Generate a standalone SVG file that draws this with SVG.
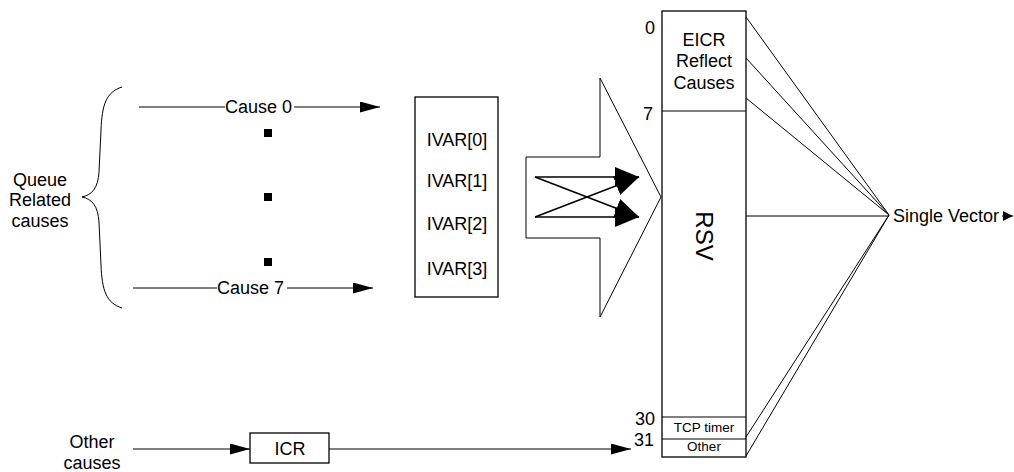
<svg xmlns="http://www.w3.org/2000/svg" width="1014" height="472" viewBox="0 0 1014 472">
<style>
text{font-family:"Liberation Sans",Arial,sans-serif;fill:#000}
.t18{font-size:18px}
.t13{font-size:13.5px}
.box{fill:#fff;stroke:#000;stroke-width:1.3}
.ln{fill:none;stroke:#000;stroke-width:1}
.lnb{fill:none;stroke:#000;stroke-width:1.5}
</style>
<defs>
<marker id="ah" markerWidth="20" markerHeight="11" refX="20" refY="5.5" orient="auto" markerUnits="userSpaceOnUse">
<path d="M0,0 L20,5.5 L0,11 Z" fill="#000"/>
</marker>
<marker id="ahb" markerWidth="24" markerHeight="20" refX="24" refY="10" orient="auto" markerUnits="userSpaceOnUse">
<path d="M0,0 L24,10 L0,20 Z" fill="#000"/>
</marker>
<marker id="ahs" markerWidth="10" markerHeight="10" refX="10" refY="5" orient="auto" markerUnits="userSpaceOnUse">
<path d="M0,0 L10,5 L0,10 Z" fill="#000"/>
</marker>
</defs>

<g id="queue-causes">
<path class="ln" d="M122,87 C106,92 102,105 101,130 L99,172 C98,188 92,195 82,197 C92,199 98,206 99,222 L101,265 C102,290 106,303 122,308"/>
<text class="t18" text-anchor="middle" x="40" y="186">Queue</text>
<text class="t18" text-anchor="middle" x="40" y="206">Related</text>
<text class="t18" text-anchor="middle" x="40" y="227">causes</text>
</g>

<g id="dots">
<rect x="264" y="129" width="8" height="8" fill="#000"/>
<rect x="264" y="193" width="8" height="8" fill="#000"/>
<rect x="264" y="258" width="8" height="8" fill="#000"/>
</g>

<g id="ivar">
<rect class="box" x="415" y="97" width="83" height="200"/>
<text class="t18" text-anchor="middle" x="457" y="146">IVAR[0]</text>
<text class="t18" text-anchor="middle" x="457" y="187">IVAR[1]</text>
<text class="t18" text-anchor="middle" x="457" y="230">IVAR[2]</text>
<text class="t18" text-anchor="middle" x="457" y="275">IVAR[3]</text>
</g>

<g id="big-arrow">
<path class="ln" d="M600,157 L526,157 L526,238 L600,238 L600,317 L661,197 L600,78 Z" fill="#fff"/>
</g>

<g id="register">
<rect class="box" x="662" y="11" width="84" height="446"/>
<line class="ln" x1="662" y1="111" x2="746" y2="111" stroke-width="1.3"/>
<line class="ln" x1="662" y1="417" x2="746" y2="417" stroke-width="1.3"/>
<line class="ln" x1="662" y1="439" x2="746" y2="439" stroke-width="1.3"/>
<text class="t18" text-anchor="middle" x="704" y="46">EICR</text>
<text class="t18" text-anchor="middle" x="704" y="67">Reflect</text>
<text class="t18" text-anchor="middle" x="704" y="89">Causes</text>
<text font-size="24" text-anchor="middle" transform="translate(696,236) rotate(90)">RSV</text>
<text class="t13" text-anchor="middle" x="704" y="432">TCP timer</text>
<text class="t13" text-anchor="middle" x="704" y="451">Other</text>
<text class="t18" text-anchor="end" x="655" y="34">0</text>
<text class="t18" text-anchor="end" x="653" y="120">7</text>
<text class="t18" text-anchor="end" x="655" y="425">30</text>
<text class="t18" text-anchor="end" x="654" y="446">31</text>
</g>

<g id="icr">
<rect class="box" x="250" y="433" width="79" height="30"/>
<text class="t18" text-anchor="middle" x="290" y="455">ICR</text>
</g>

<g id="other-causes">
<text class="t18" text-anchor="middle" x="92" y="448">Other</text>
<text class="t18" text-anchor="middle" x="92" y="469">causes</text>
</g>

<g id="single-vector">
<text class="t18" x="893" y="222">Single Vector</text>
</g>

<g id="connectors">
<line class="ln" x1="139" y1="107" x2="225" y2="107"/>
<text class="t18" x="225" y="113">Cause 0</text>
<line class="ln" x1="294" y1="107" x2="380" y2="107" marker-end="url(#ah)"/>
<line class="ln" x1="133" y1="288" x2="217" y2="288"/>
<text class="t18" x="217" y="294">Cause 7</text>
<line class="ln" x1="287" y1="288" x2="373" y2="288" marker-end="url(#ah)"/>

<line class="lnb" x1="535" y1="177" x2="639" y2="177" marker-end="url(#ahb)"/>
<line class="lnb" x1="535" y1="217" x2="639" y2="217" marker-end="url(#ahb)"/>
<line class="lnb" x1="535" y1="177" x2="639" y2="217" marker-end="url(#ahb)"/>
<line class="lnb" x1="535" y1="217" x2="639" y2="177" marker-end="url(#ahb)"/>

<line class="ln" x1="133" y1="449" x2="250" y2="449" marker-end="url(#ah)"/>
<line class="ln" x1="329" y1="449" x2="631" y2="449" marker-end="url(#ah)"/>

<line class="ln" x1="746" y1="17" x2="889" y2="215"/>
<line class="ln" x1="746" y1="58" x2="889" y2="215"/>
<line class="ln" x1="746" y1="98" x2="889" y2="215"/>
<line class="ln" x1="746" y1="216" x2="889" y2="216"/>
<line class="ln" x1="746" y1="437" x2="889" y2="215"/>
<line class="ln" x1="746" y1="456" x2="889" y2="215"/>

<line class="ln" x1="1002" y1="216" x2="1013" y2="216" marker-end="url(#ahs)"/>
</g>
</svg>
